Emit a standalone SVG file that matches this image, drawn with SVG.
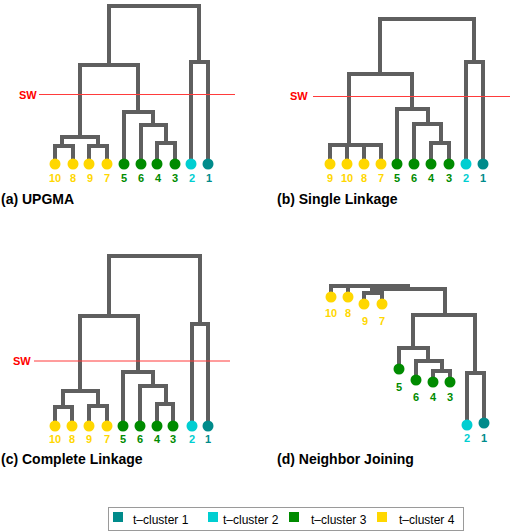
<svg xmlns="http://www.w3.org/2000/svg" xmlns:xlink="http://www.w3.org/1999/xlink" width="512" height="531" viewBox="0 0 512 531">
<style>
.outer path{fill:none;stroke:#5f5f5f;stroke-width:4;stroke-linejoin:miter;stroke-linecap:square}
.inner{fill:none;stroke:#8e8e8e;stroke-width:1.3}
.inner path{fill:none}
.sw{stroke:#ff3b3b;stroke-width:1}
.swt{font-family:"Liberation Sans",Arial,sans-serif;font-size:11px;font-weight:bold;fill:#ff0000}
.lab{font-family:"Liberation Sans",Arial,sans-serif;font-size:11px;font-weight:bold;text-anchor:middle}
.ttl{font-family:"Liberation Sans",Arial,sans-serif;font-size:14px;font-weight:bold;fill:#000}
.leg{font-family:"Liberation Sans",Arial,sans-serif;font-size:12px;fill:#000}
.c1{fill:#008B8B}.c2{fill:#00CED1}.c3{fill:#008B00}.c4{fill:#FFD700}
</style>
<rect width="512" height="531" fill="#fff"/>
<g id="connectors">
 <g class="outer">
  <g id="pa">
   <path d="M55 164V146H73V164"/><path d="M89 164V146H107V164"/><path d="M62 146V137H98V146"/>
   <path d="M157 164V143H175V164"/><path d="M141 164V125H166V143"/><path d="M124 164V112H153V125"/>
   <path d="M80 137V65H138V112"/><path d="M191 164V62H208V164"/><path d="M109 65V6H199V62"/>
  </g>
  <g id="pb">
   <path d="M330 164V145H381V164"/><path d="M347 164V145"/><path d="M364 164V145"/>
   <path d="M431 164V143H449V164"/><path d="M414 164V124H441V143"/><path d="M397 164V109H428V124"/>
   <path d="M349 145V74H412V109"/><path d="M466 164V62H483V164"/><path d="M380 74V19H474V62"/>
  </g>
  <g id="pc">
   <path d="M55 426V407H72V426"/><path d="M89 426V406H107V426"/><path d="M63 407V391H98V406"/>
   <path d="M157 426V404H173V426"/><path d="M140 426V386H166V404"/><path d="M123 426V372H153V386"/>
   <path d="M80 391V316H138V372"/><path d="M192 426V324H208V426"/><path d="M109 316V256H200V324"/>
  </g>
  <g id="pd">
   <path d="M364 304V293H382V304"/><path d="M331 295V286H408"/><path d="M348 295V286"/><path d="M372 293V286"/>
   <path d="M372 289H445V315"/><path d="M413 348V315H475V373"/><path d="M399 369V348H428V361"/>
   <path d="M416 380V361H442V371"/><path d="M433 382V371H450V382"/><path d="M467 425V373H484V423"/>
  </g>
 </g>
 <use xlink:href="#pa" href="#pa" class="inner"/>
 <use xlink:href="#pb" href="#pb" class="inner"/>
 <use xlink:href="#pc" href="#pc" class="inner"/>
 <use xlink:href="#pd" href="#pd" class="inner"/>
</g>
<g id="sw-lines">
 <line class="sw" x1="39" y1="94.5" x2="235" y2="94.5"/>
 <text class="swt" x="19" y="98.5">SW</text>
 <line class="sw" x1="313" y1="96.5" x2="510" y2="96.5"/>
 <text class="swt" x="290" y="100">SW</text>
 <line class="sw" x1="34" y1="361" x2="230" y2="361"/>
 <text class="swt" x="13" y="364.5">SW</text>
</g>
<g id="tree-a">
 <circle class="c4" cx="55" cy="164" r="5.5"/><circle class="c4" cx="73" cy="164" r="5.5"/><circle class="c4" cx="89" cy="164" r="5.5"/><circle class="c4" cx="107" cy="164" r="5.5"/>
 <circle class="c3" cx="124" cy="164" r="5.5"/><circle class="c3" cx="141" cy="164" r="5.5"/><circle class="c3" cx="157" cy="164" r="5.5"/><circle class="c3" cx="175" cy="164" r="5.5"/>
 <circle class="c2" cx="191" cy="164" r="5.5"/><circle class="c1" cx="208" cy="164" r="5.5"/>
 <text class="lab c4" x="55" y="182">10</text><text class="lab c4" x="73" y="182">8</text><text class="lab c4" x="90" y="182">9</text><text class="lab c4" x="107" y="182">7</text>
 <text class="lab c3" x="124" y="182">5</text><text class="lab c3" x="141" y="182">6</text><text class="lab c3" x="158" y="182">4</text><text class="lab c3" x="175" y="182">3</text>
 <text class="lab c2" x="192" y="182">2</text><text class="lab c1" x="209" y="182">1</text>
 <text class="ttl" x="1" y="204">(a) UPGMA</text>
</g>
<g id="tree-b">
 <circle class="c4" cx="330" cy="164" r="5.5"/><circle class="c4" cx="347" cy="164" r="5.5"/><circle class="c4" cx="364" cy="164" r="5.5"/><circle class="c4" cx="381" cy="164" r="5.5"/>
 <circle class="c3" cx="397" cy="164" r="5.5"/><circle class="c3" cx="414" cy="164" r="5.5"/><circle class="c3" cx="431" cy="164" r="5.5"/><circle class="c3" cx="449" cy="164" r="5.5"/>
 <circle class="c2" cx="466" cy="164" r="5.5"/><circle class="c1" cx="483" cy="164" r="5.5"/>
 <text class="lab c4" x="330" y="182">9</text><text class="lab c4" x="347" y="182">10</text><text class="lab c4" x="364" y="182">8</text><text class="lab c4" x="381" y="182">7</text>
 <text class="lab c3" x="397" y="182">5</text><text class="lab c3" x="414" y="182">6</text><text class="lab c3" x="431" y="182">4</text><text class="lab c3" x="449" y="182">3</text>
 <text class="lab c2" x="466" y="182">2</text><text class="lab c1" x="483" y="182">1</text>
 <text class="ttl" x="277" y="204">(b) Single Linkage</text>
</g>
<g id="tree-c">
 <circle class="c4" cx="55" cy="426" r="5.5"/><circle class="c4" cx="72" cy="426" r="5.5"/><circle class="c4" cx="89" cy="426" r="5.5"/><circle class="c4" cx="107" cy="426" r="5.5"/>
 <circle class="c3" cx="123" cy="426" r="5.5"/><circle class="c3" cx="140" cy="426" r="5.5"/><circle class="c3" cx="157" cy="426" r="5.5"/><circle class="c3" cx="173" cy="426" r="5.5"/>
 <circle class="c2" cx="192" cy="426" r="5.5"/><circle class="c1" cx="208" cy="426" r="5.5"/>
 <text class="lab c4" x="55" y="443">10</text><text class="lab c4" x="72" y="443">8</text><text class="lab c4" x="89" y="443">9</text><text class="lab c4" x="107" y="443">7</text>
 <text class="lab c3" x="123" y="443">5</text><text class="lab c3" x="140" y="443">6</text><text class="lab c3" x="157" y="443">4</text><text class="lab c3" x="173" y="443">3</text>
 <text class="lab c2" x="192" y="443">2</text><text class="lab c1" x="208" y="443">1</text>
 <text class="ttl" x="1" y="464">(c) Complete Linkage</text>
</g>
<g id="tree-d">
 <circle class="c4" cx="331" cy="297" r="5.5"/><circle class="c4" cx="348" cy="297" r="5.5"/><circle class="c4" cx="364" cy="304" r="5.5"/><circle class="c4" cx="382" cy="304" r="5.5"/>
 <circle class="c3" cx="399" cy="369" r="5.5"/><circle class="c3" cx="416" cy="380" r="5.5"/><circle class="c3" cx="433" cy="382" r="5.5"/><circle class="c3" cx="450" cy="382" r="5.5"/>
 <circle class="c2" cx="467" cy="425" r="5.5"/><circle class="c1" cx="484" cy="423" r="5.5"/>
 <text class="lab c4" x="331" y="317">10</text><text class="lab c4" x="348" y="317">8</text><text class="lab c4" x="365" y="325">9</text><text class="lab c4" x="382" y="325">7</text>
 <text class="lab c3" x="399" y="391">5</text><text class="lab c3" x="416" y="401">6</text><text class="lab c3" x="433" y="401">4</text><text class="lab c3" x="450" y="401">3</text>
 <text class="lab c2" x="467" y="442">2</text><text class="lab c1" x="484" y="442">1</text>
 <text class="ttl" x="277" y="464">(d) Neighbor Joining</text>
</g>
<g id="legend">
 <rect x="108.5" y="507.5" width="355" height="23" fill="#fff" stroke="#9a9a9a" stroke-width="1"/>
 <rect class="c1" x="113" y="512" width="10" height="10"/>
 <text class="leg" x="133" y="524">t–cluster 1</text>
 <rect class="c2" x="208" y="512" width="10" height="10"/>
 <text class="leg" x="223" y="524">t–cluster 2</text>
 <rect class="c3" x="289" y="512" width="10" height="10"/>
 <text class="leg" x="311" y="524">t–cluster 3</text>
 <rect class="c4" x="377" y="512" width="10" height="10"/>
 <text class="leg" x="399" y="524">t–cluster 4</text>
</g>
</svg>
